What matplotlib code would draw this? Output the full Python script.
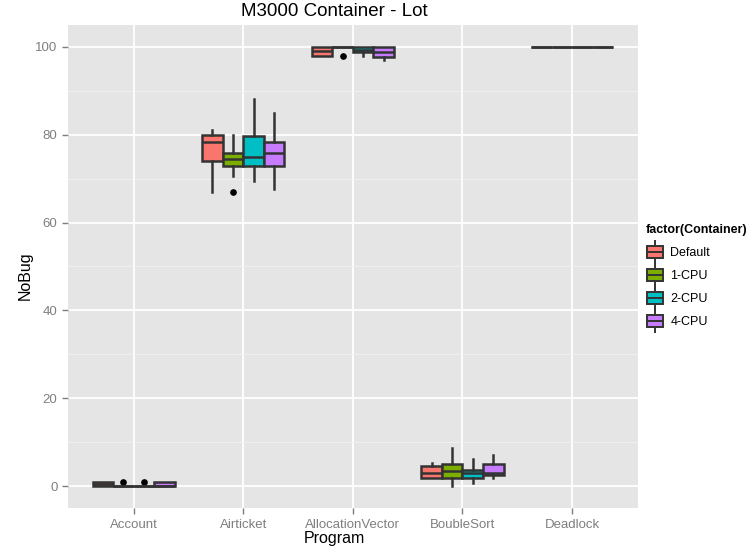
import numpy as np
import matplotlib.pyplot as plt
from matplotlib.legend_handler import HandlerBase
from matplotlib.lines import Line2D
from matplotlib.patches import Rectangle

plt.rcParams["font.family"] = ["Liberation Sans", "DejaVu Sans"]

programs = ["Account", "Airticket", "AllocationVector", "BoubleSort", "Deadlock"]
containers = ["Default", "1-CPU", "2-CPU", "4-CPU"]
colors = ["#F8766D", "#7CAE00", "#00BFC4", "#C77CFF"]

# (whislo, q1, med, q3, whishi) for each program
default_stats = [(0, 0, 0.5, 1, 1), (67, 74, 78.4, 80, 81), (98, 98, 99, 100, 100),
                 (1.9, 1.9, 3.1, 4.6, 5.2), (100, 100, 100, 100, 100)]
cpu1_stats = [(0, 0, 0, 0, 0), (70.5, 72.9, 74.4, 75.8, 80), (100, 100, 100, 100, 100),
              (0, 1.9, 3.4, 5.0, 8.8), (100, 100, 100, 100, 100)]
cpu2_stats = [(0, 0, 0, 0, 0), (69.5, 72.9, 75, 79.7, 88), (98, 98.9, 99.3, 100, 100),
              (0.8, 1.9, 2.9, 3.6, 6.1), (100, 100, 100, 100, 100)]
cpu4_stats = [(0, 0, 0, 1, 1), (67.7, 72.9, 75.8, 78.4, 85), (96.9, 97.6, 98.7, 100, 100),
              (1.8, 2.6, 2.9, 5.0, 7.1), (100, 100, 100, 100, 100)]

default_fliers = [[], [], [], [], []]
cpu1_fliers = [[1], [67], [98], [], []]
cpu2_fliers = [[1], [], [], [], []]
cpu4_fliers = [[], [], [], [], []]

all_stats = [default_stats, cpu1_stats, cpu2_stats, cpu4_stats]
all_fliers = [default_fliers, cpu1_fliers, cpu2_fliers, cpu4_fliers]

EDGE = "#333333"
LW = 1.8
BOX_W = 0.1875
offsets = [-0.28125, -0.09375, 0.09375, 0.28125]

fig = plt.figure(figsize=(7.54, 5.5), dpi=100)
ax = fig.add_axes([0.090, 0.076, 0.756, 0.879])
ax.set_facecolor("#E5E5E5")

for k in range(len(containers)):
    bxp_stats = []
    for i, s in enumerate(all_stats[k]):
        bxp_stats.append(dict(whislo=s[0], q1=s[1], med=s[2], q3=s[3], whishi=s[4],
                              fliers=all_fliers[k][i]))
    pos = np.arange(1, len(programs) + 1) + offsets[k]
    ax.bxp(bxp_stats, positions=pos, widths=BOX_W, patch_artist=True,
           showcaps=False, manage_ticks=False,
           boxprops=dict(facecolor=colors[k], edgecolor=EDGE, linewidth=LW),
           medianprops=dict(color=EDGE, linewidth=LW),
           whiskerprops=dict(color=EDGE, linewidth=LW),
           flierprops=dict(marker="o", markerfacecolor="black", markeredgecolor="black",
                           markersize=3.8))

ax.set_xlim(0.4, 5.6)
ax.set_ylim(-5, 105)
ax.set_xticks(range(1, 6))
ax.set_xticklabels(programs)
ax.set_yticks([0, 20, 40, 60, 80, 100])
ax.set_yticks([10, 30, 50, 70, 90], minor=True)
ax.grid(True, which="major", color="white", linewidth=1.3)
ax.grid(True, which="minor", axis="y", color="#F2F2F2", linewidth=0.6)
ax.set_axisbelow(True)
for sp in ax.spines.values():
    sp.set_visible(False)
ax.tick_params(axis="both", which="major", colors="#7F7F7F", labelcolor="#7F7F7F",
               labelsize=9.5, length=4, width=1)
ax.tick_params(axis="both", which="minor", length=0)

ax.set_title("M3000 Container - Lot", fontsize=13.5, pad=6, x=0.468)
ax.set_xlabel("Program", fontsize=11.5)
ax.xaxis.set_label_coords(0.468, -0.048)
ax.set_ylabel("NoBug", fontsize=11.5)
ax.yaxis.set_label_coords(-0.062, 0.48)


class BoxHandler(HandlerBase):
    def create_artists(self, legend, orig_handle, xdescent, ydescent, width, height,
                       fontsize, trans):
        cx = width / 2 - xdescent
        w = Line2D([cx, cx], [-ydescent - 3, height - ydescent + 3], color=EDGE,
                   linewidth=1.4, transform=trans)
        r = Rectangle((-xdescent + 1, -ydescent), width - 2, height,
                      facecolor=orig_handle.get_facecolor(), edgecolor=EDGE,
                      linewidth=1.4, transform=trans)
        m = Line2D([-xdescent + 1, width - xdescent - 1],
                   [height / 2 - ydescent] * 2, color=EDGE, linewidth=1.4,
                   transform=trans)
        return [w, r, m]


handles = [Rectangle((0, 0), 1, 1, facecolor=c) for c in colors]
leg = fig.legend(handles, containers, handler_map={Rectangle: BoxHandler()},
                 title="factor(Container)", loc="upper left",
                 bbox_to_anchor=(0.846, 0.606), frameon=False, fontsize=9,
                 title_fontproperties=dict(weight="bold", size=9),
                 handlelength=1.5, handleheight=1.2, handletextpad=0.5,
                 labelspacing=0.75, borderaxespad=0.2, alignment="left")

fig.savefig("out.png", dpi=100, facecolor="white")
